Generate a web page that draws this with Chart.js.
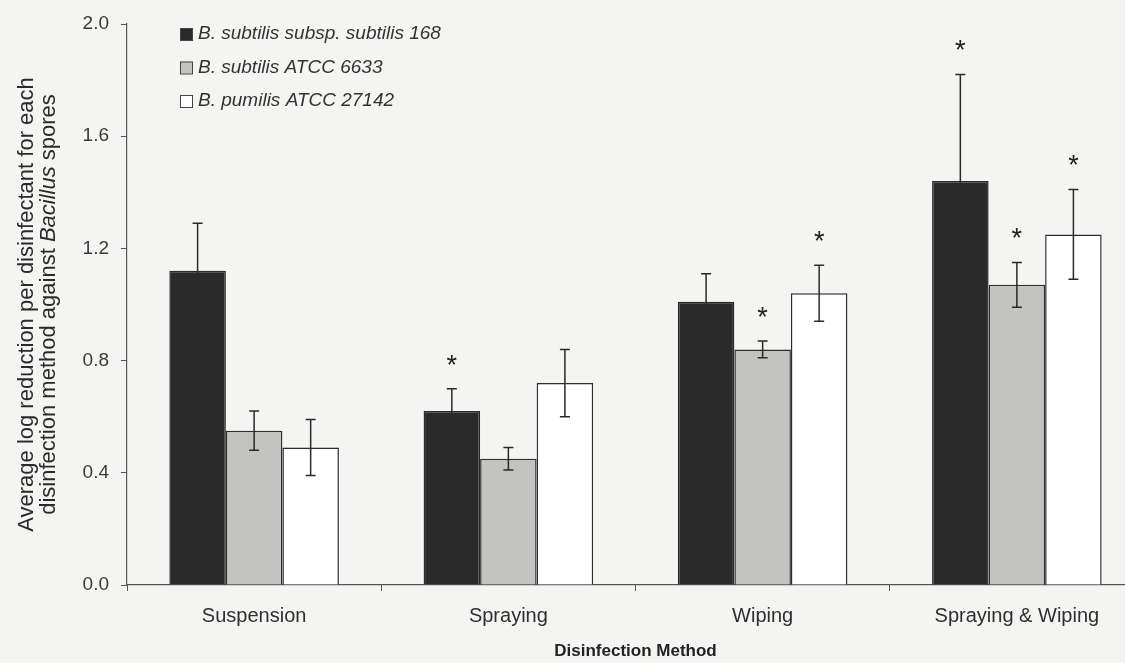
<!DOCTYPE html>
<html>
<head>
<meta charset="utf-8">
<script src="https://cdn.jsdelivr.net/npm/chart.js@4.4.1/dist/chart.umd.min.js"></script>
<style>
    html, body { margin: 0; padding: 0; overflow: hidden; background: #f4f4f2; }
    #chartBox { width: 1150px; height: 663px; }
</style>
</head>
<body>
<div id="chartBox"><canvas id="logChart" width="1150" height="663"></canvas></div>
<script>
// categories on the x axis
const methods = ['Suspension', 'Spraying', 'Wiping', 'Spraying & Wiping'];

// mean log reduction per strain
const strain168 = [1.12, 0.62, 1.01, 1.44];
const strain6633 = [0.55, 0.45, 0.84, 1.07];
const strain27142 = [0.49, 0.72, 1.04, 1.25];

// error bar half widths
const strain168Err = [0.17, 0.08, 0.10, 0.38];
const strain6633Err = [0.07, 0.04, 0.03, 0.08];
const strain27142Err = [0.10, 0.12, 0.10, 0.16];

// significance marks (*)
const strain168Sig = [false, true, false, true];
const strain6633Sig = [false, false, true, true];
const strain27142Sig = [false, false, true, true];

const yTicks = [0, 0.4, 0.8, 1.2, 1.6, 2.0];

const errors = [strain168Err, strain6633Err, strain27142Err];
const marks = [strain168Sig, strain6633Sig, strain27142Sig];

const FONT = '"Liberation Sans", Arial, sans-serif';
const INK = '#2f2f2f';

const backgroundPlugin = {
    id: 'paper',
    beforeDraw(chart) {
        const ctx = chart.ctx;
        ctx.save();
        ctx.fillStyle = '#f4f4f2';
        ctx.fillRect(0, 0, chart.width, chart.height);
        ctx.restore();
    }
};

const errorBarPlugin = {
    id: 'errorBars',
    afterDatasetsDraw(chart) {
        const ctx = chart.ctx;
        const yScale = chart.scales.y;
        ctx.save();
        ctx.strokeStyle = '#2a2a2a';
        ctx.lineWidth = 1.5;
        chart.data.datasets.forEach((ds, i) => {
            const meta = chart.getDatasetMeta(i);
            meta.data.forEach((bar, j) => {
                const v = ds.data[j];
                const e = errors[i][j];
                const top = yScale.getPixelForValue(v + e);
                const bottom = yScale.getPixelForValue(v - e);
                ctx.beginPath();
                ctx.moveTo(bar.x, top);
                ctx.lineTo(bar.x, bottom);
                ctx.moveTo(bar.x - 5, top);
                ctx.lineTo(bar.x + 5, top);
                ctx.moveTo(bar.x - 5, bottom);
                ctx.lineTo(bar.x + 5, bottom);
                ctx.stroke();
                if (marks[i][j]) {
                    ctx.fillStyle = '#222';
                    ctx.font = '27px ' + FONT;
                    ctx.textAlign = 'center';
                    ctx.textBaseline = 'alphabetic';
                    ctx.fillText('*', bar.x, top - 15);
                }
            });
        });
        ctx.restore();
    }
};

const labelPlugin = {
    id: 'labels',
    afterDraw(chart) {
        const ctx = chart.ctx;
        const area = chart.chartArea;
        ctx.save();

        // legend, top left inside the plot
        ctx.font = 'italic 19px ' + FONT;
        ctx.textBaseline = 'middle';
        ctx.textAlign = 'left';
        chart.data.datasets.forEach((ds, i) => {
            const y = 34 + i * 33.5;
            ctx.fillStyle = ds.backgroundColor;
            ctx.fillRect(180, y - 6, 12, 12);
            ctx.strokeStyle = '#444';
            ctx.lineWidth = 1;
            ctx.strokeRect(180.5, y - 5.5, 12, 12);
            ctx.fillStyle = '#333';
            ctx.fillText(ds.label, 198, y);
        });

        // x axis title
        ctx.font = 'bold 17px ' + FONT;
        ctx.textAlign = 'center';
        ctx.fillStyle = '#222';
        ctx.fillText('Disinfection Method', (area.left + area.right) / 2, 651);

        // y axis title, two lines, Bacillus in italics
        const cy = (area.top + area.bottom) / 2;
        ctx.translate(0, cy);
        ctx.rotate(-Math.PI / 2);
        ctx.fillStyle = '#2a2a2a';
        ctx.font = '22px ' + FONT;
        ctx.textAlign = 'center';
        ctx.fillText('Average log reduction per disinfectant for each', 0, 27);

        const parts = [
            ['disinfection method against ', '22px ' + FONT],
            ['Bacillus', 'italic 22px ' + FONT],
            [' spores', '22px ' + FONT]
        ];
        let total = 0;
        parts.forEach(p => { ctx.font = p[1]; total += ctx.measureText(p[0]).width; });
        let x = -total / 2;
        ctx.textAlign = 'left';
        parts.forEach(p => {
            ctx.font = p[1];
            ctx.fillText(p[0], x, 49);
            x += ctx.measureText(p[0]).width;
        });
        ctx.restore();
    }
};

const ctx = document.getElementById('logChart').getContext('2d');

new Chart(ctx, {
    type: 'bar',
    data: {
        labels: methods,
        datasets: [{
            label: 'B. subtilis subsp. subtilis 168',
            data: strain168,
            backgroundColor: '#2a2a2a',
            borderColor: '#2a2a2a',
            borderWidth: 1.5
        }, {
            label: 'B. subtilis ATCC 6633',
            data: strain6633,
            backgroundColor: '#c3c3c1',
            borderColor: '#2e2e2e',
            borderWidth: 1.5
        }, {
            label: 'B. pumilis ATCC 27142',
            data: strain27142,
            backgroundColor: '#ffffff',
            borderColor: '#2e2e2e',
            borderWidth: 1.5
        }]
    },
    options: {
        responsive: false,
        animation: false,
        devicePixelRatio: 1,
        layout: {
            padding: { top: 24, right: 6, left: 0, bottom: 0 }
        },
        datasets: {
            bar: {
                categoryPercentage: 0.667,
                barPercentage: 1.0
            }
        },
        plugins: {
            legend: { display: false },
            tooltip: { enabled: false }
        },
        scales: {
            x: {
                grid: {
                    offset: true,
                    drawOnChartArea: false,
                    drawTicks: true,
                    tickLength: 6,
                    color: '#555'
                },
                border: { color: '#555', width: 1.2 },
                ticks: {
                    color: INK,
                    font: { family: FONT, size: 20 },
                    padding: 13,
                    maxRotation: 0
                },
                afterFit(scale) { scale.height = 78; }
            },
            y: {
                min: 0,
                max: 2.0,
                afterBuildTicks(scale) {
                    scale.ticks = yTicks.map(v => ({ value: v }));
                },
                grid: {
                    drawOnChartArea: false,
                    drawTicks: true,
                    tickLength: 6,
                    color: '#555'
                },
                border: { color: '#555', width: 1.2 },
                ticks: {
                    color: '#3a3a3a',
                    font: { family: FONT, size: 19 },
                    padding: 12,
                    callback: v => Number(v).toFixed(1)
                },
                afterFit(scale) { scale.width = 127; }
            }
        }
    },
    plugins: [backgroundPlugin, errorBarPlugin, labelPlugin]
});
</script>
</body>
</html>
